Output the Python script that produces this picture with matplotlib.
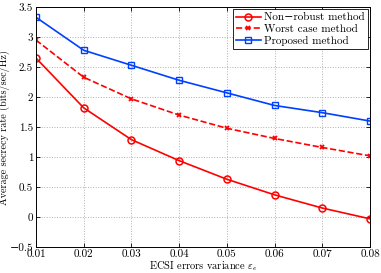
import matplotlib
matplotlib.use("Agg")
import matplotlib.pyplot as plt

# ---- data ----
variance = [0.01, 0.02, 0.03, 0.04, 0.05, 0.06, 0.07, 0.08]
non_robust = [2.65, 1.82, 1.29, 0.94, 0.63, 0.37, 0.15, -0.03]
worst_case = [2.95, 2.33, 1.97, 1.70, 1.48, 1.31, 1.16, 1.02]
proposed = [3.33, 2.78, 2.53, 2.28, 2.07, 1.86, 1.74, 1.60]

plt.rcParams["font.family"] = ["cmr10", "DejaVu Serif"]
plt.rcParams["mathtext.fontset"] = "cm"
plt.rcParams["axes.formatter.use_mathtext"] = True
plt.rcParams["font.size"] = 8

fig = plt.figure(figsize=(3.81, 2.73), dpi=100)
ax = fig.add_axes([0.0945, 0.095, 0.877, 0.879])

ax.plot(variance, non_robust, "-o", color="#ff0000", lw=1.2, ms=5,
        mfc="none", mew=1.1, label="Non\u2212robust method")
ax.plot(variance, worst_case, "--x", color="#ff0000", lw=1.2, ms=3,
        mew=1.3, label="Worst case method")
ax.plot(variance, proposed, "-s", color="#0040ff", lw=1.2, ms=4,
        mfc="none", mew=1.0, label="Proposed method")

ax.set_xlim(0.01, 0.08)
ax.set_ylim(-0.5, 3.5)
ax.set_xticks(variance)
ax.set_xticklabels(["%.2f" % v for v in variance])
ax.set_yticks([-0.5, 0, 0.5, 1, 1.5, 2, 2.5, 3, 3.5])
ax.set_yticklabels(["\u22120.5", "0", "0.5", "1", "1.5", "2", "2.5", "3", "3.5"])
ax.tick_params(direction="in", length=3, width=0.6, top=True, right=True, pad=2)
ax.grid(True, linestyle=":", color="#b0b0b0", lw=0.7)
for s in ax.spines.values():
    s.set_linewidth(0.7)

ax.set_xlabel(r"ECSI errors variance $\varepsilon_e$", fontsize=7.5, labelpad=0)
ax.set_ylabel("Average secrecy rate (bits/sec/Hz)", fontsize=7.3)
ax.yaxis.set_label_coords(-0.078, 0.5)

leg = ax.legend(loc="upper right", fancybox=False, edgecolor="black",
                framealpha=1, borderpad=0.3, labelspacing=0.15,
                handlelength=2.2, handletextpad=0.3, borderaxespad=0.2)
leg.get_frame().set_linewidth(0.6)

fig.savefig("out.png", dpi=100)
